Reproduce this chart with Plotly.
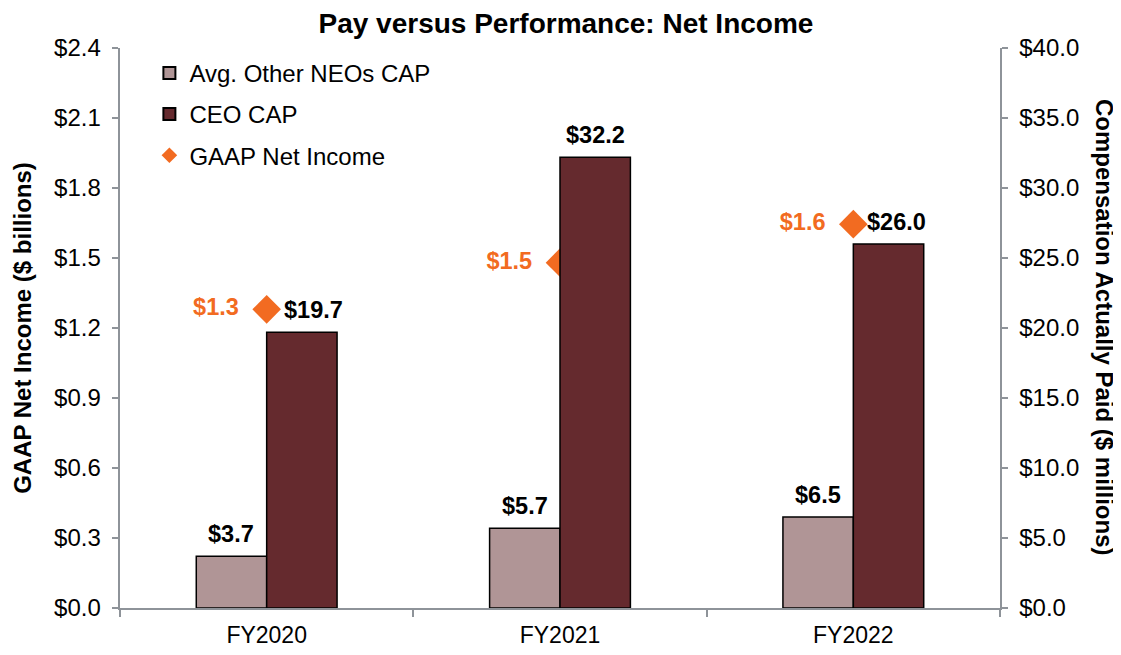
import plotly.graph_objects as go

categories = ["FY2020", "FY2021", "FY2022"]
neo_cap = [3.7, 5.7, 6.5]          # $ millions
ceo_cap = [19.7, 32.2, 26.0]       # $ millions
net_income = [1.28, 1.48, 1.645]   # $ billions
net_income_labels = ["$1.3", "$1.5", "$1.6"]

FONT = "Liberation Sans, Arial, sans-serif"
NEO_COLOR = "#B09596"
CEO_COLOR = "#652A2E"
ORANGE = "#F26B21"
AXIS_GRAY = "#8E9399"
NBSP = "\u00a0"

# page body has an 8px default margin, so the figure is a little smaller
W, H = 1113, 647
L, R, T, B = 112, 121, 40, 47
plot_w = W - L - R
cat_w = plot_w / len(categories)
bargap = 0.52
bar_w = cat_w * (1 - bargap) / 2

# CEO value labels that sit next to a diamond are nudged right to clear it
ceo_label_nudge = {"FY2020": 12, "FY2022": 8}

fig = go.Figure()
fig.add_trace(go.Bar(
    x=categories, y=neo_cap, name="Avg. Other NEOs CAP", yaxis="y2",
    marker=dict(color=NEO_COLOR, line=dict(color="#000000", width=1.5)),
    legendgroup="a", hoverinfo="skip"))
fig.add_trace(go.Bar(
    x=categories, y=ceo_cap, name="CEO CAP", yaxis="y2",
    marker=dict(color=CEO_COLOR, line=dict(color="#000000", width=1.5)),
    legendgroup="b", hoverinfo="skip"))
fig.add_trace(go.Scatter(
    x=categories, y=net_income, name="GAAP Net Income", yaxis="y",
    mode="markers+text", text=net_income_labels,
    texttemplate="%{text}" + NBSP * 2, textposition="middle left",
    textfont=dict(family=FONT, size=23.5, color=ORANGE, weight="bold"),
    marker=dict(symbol="diamond", size=22, color=ORANGE),
    legendgroup="c", hoverinfo="skip"))

annotations = []
for series, shift, nudge in ((neo_cap, -bar_w / 2, {}), (ceo_cap, bar_w / 2, ceo_label_nudge)):
    for c, v in zip(categories, series):
        annotations.append(dict(
            x=c, y=v, xref="x", yref="y2", text=f"<b>${v:.1f}</b>",
            showarrow=False, xshift=shift + nudge.get(c, 0), yanchor="bottom", yshift=7,
            font=dict(family=FONT, size=23.5, color="#000000")))

annotations.append(dict(
    x=1.1193, y=0.5, xref="paper", yref="paper", xanchor="center", yanchor="middle",
    text="<b>Compensation Actually Paid ($ millions)</b>", textangle=90,
    showarrow=False, font=dict(family=FONT, size=24, color="#000000")))

fig.update_layout(
    width=W, height=H,
    margin=dict(l=L, r=R, t=T, b=B, autoexpand=False),
    paper_bgcolor="white", plot_bgcolor="white",
    barmode="group", bargap=bargap, bargroupgap=0,
    font=dict(family=FONT, size=24, color="#000000"),
    title=dict(text="<b>Pay versus Performance: Net Income</b>", x=0.5013, xanchor="center",
               y=0.9768, yanchor="middle", font=dict(family=FONT, size=28, color="#000000")),
    legend=dict(x=0.0334, y=0.995, xanchor="left", yanchor="top", bgcolor="rgba(0,0,0,0)",
                font=dict(family=FONT, size=24), traceorder="grouped", tracegroupgap=7,
                itemsizing="constant"),
    xaxis=dict(showline=True, linecolor=AXIS_GRAY, linewidth=1.5, ticks="outside",
               tickson="boundaries", ticklen=7, tickcolor=AXIS_GRAY, tickwidth=1.5,
               ticklabelstandoff=6, automargin=False,
               showgrid=False, tickfont=dict(family=FONT, size=23)),
    yaxis=dict(range=[0, 2.4], dtick=0.3, tick0=0, tickprefix="$", tickformat=".1f",
               ticksuffix=NBSP,
               showline=True, linecolor=AXIS_GRAY, linewidth=1.5, ticks="outside",
               ticklen=6, tickcolor=AXIS_GRAY, tickwidth=1.5, showgrid=False, zeroline=False,
               tickfont=dict(family=FONT, size=24),
               title=dict(text="<b>GAAP Net Income ($ billions)</b>", standoff=16,
                          font=dict(family=FONT, size=24))),
    yaxis2=dict(range=[0, 40], dtick=5, tick0=0, tickprefix=NBSP + "$", tickformat=".1f",
                overlaying="y", side="right", showline=True, linecolor=AXIS_GRAY, linewidth=1.5,
                ticks="outside", ticklen=6, tickcolor=AXIS_GRAY, tickwidth=1.5,
                showgrid=False, zeroline=False, tickfont=dict(family=FONT, size=24)),
    annotations=annotations,
)

fig.write_html("out.html")
